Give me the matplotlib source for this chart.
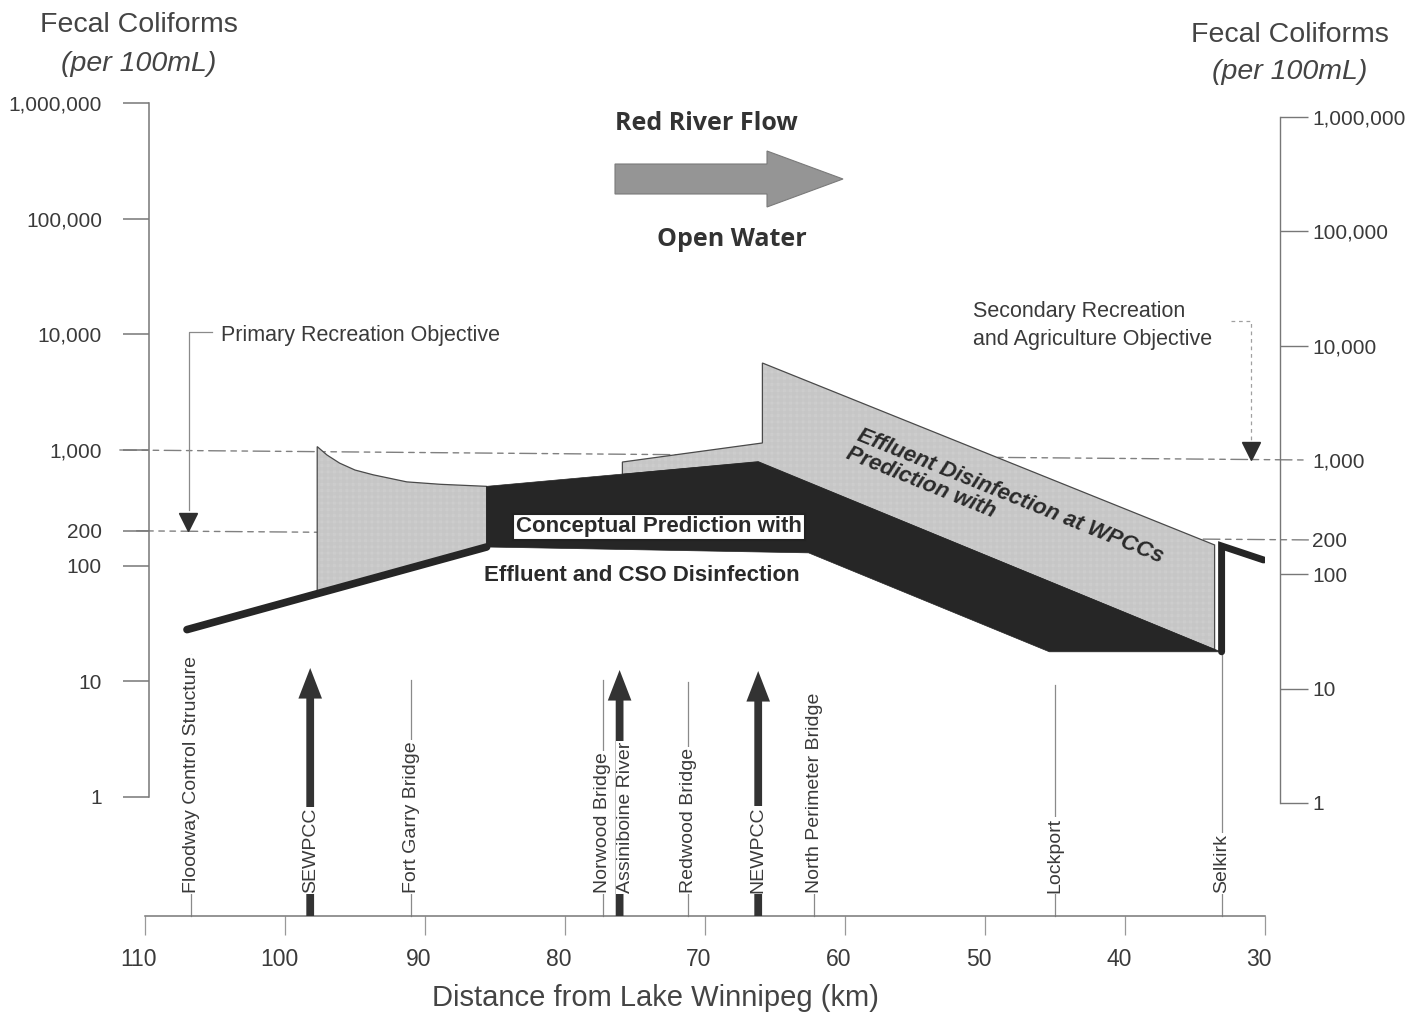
import numpy as np
import matplotlib
matplotlib.use("Agg")
import matplotlib.pyplot as plt
from matplotlib import patches as mpatches, transforms as mtrans
from matplotlib.ticker import NullLocator
from matplotlib import font_manager as fm

# ---------------- data ----------------
x_ticks = [110, 100, 90, 80, 70, 60, 50, 40, 30]
y_ticks = [1, 10, 100, 200, 1000, 10000, 100000, 1000000]
y_ticklabels = ["1", "10", "100", "200", "1,000", "10,000", "100,000", "1,000,000"]
primary_objective = 200
secondary_objective = 1000

stations = ["Floodway Control Structure", "SEWPCC", "Fort Garry Bridge",
            "Norwood Bridge", "Assiniboine River", "Redwood Bridge", "NEWPCC",
            "North Perimeter Bridge", "Lockport", "Selkirk"]
station_km = [106.7, 98.2, 91.0, 77.3, 76.1, 71.2, 66.2, 62.2, 45.0, 33.1]
inflows = ["SEWPCC", "Assiniboine River", "NEWPCC"]

# conceptual prediction with effluent and CSO disinfection
conc_line_km = [107.0, 85.6]
conc_line_val = [28, 145]
band_top_km = [85.6, 66.2, 33.4]
band_top_val = [485, 790, 18.5]
band_bot_km = [85.6, 62.6, 45.4, 33.1]
band_bot_val = [145, 129, 18, 18]
tail_km = [33.1, 33.1, 30.1]
tail_val = [18, 148, 112]

# prediction with effluent disinfection at WPCCs
sew_km = [97.7, 97.0, 96.1, 95.0, 93.7, 91.3, 88.9, 85.6]
sew_val = [1070, 905, 770, 671, 610, 530, 505, 485]
eff_km = [75.9, 75.9, 65.9, 65.9, 33.6, 33.6]
eff_val = [614, 787, 1150, 5650, 151, 18.7]

# ---------------- style ----------------
W, H = 1426, 1018
TXT = "#3a3a3a"
AXC = "#777777"
BLACK = "#262626"
GRAY = "#e0e0e0"
plt.rcParams["font.family"] = ["Liberation Sans", "DejaVu Sans"]
plt.rcParams["hatch.linewidth"] = 0.4

avail = {f.name for f in fm.fontManager.ttflist}
NARROW = "Liberation Sans Narrow" in avail

fig = plt.figure(figsize=(W / 100, H / 100), dpi=100)
fig.patch.set_facecolor("white")
PX = mtrans.Affine2D().scale(1 / W, -1 / H).translate(0, 1) + fig.transFigure

ax = fig.add_axes([145 / W, (H - 916) / H, 1120 / W, 916 / H])
ax.set_xlim(110, 30)
ax.set_yscale("log")
ax.set_ylim(10 ** ((797 - 916) / 115.67), 10 ** (797 / 115.67))
ax.patch.set_visible(False)
for s in ["top", "right"]:
    ax.spines[s].set_visible(False)
ax.spines["left"].set_bounds(1, 1e6)
ax.spines["left"].set_position(("outward", -3))
ax.spines["bottom"].set_bounds(110, 30)
for s in ["left", "bottom"]:
    ax.spines[s].set_color(AXC)
    ax.spines[s].set_linewidth(1.1)

ax.set_xticks(x_ticks)
ax.set_xticklabels([str(v) for v in x_ticks])
ax.set_yticks(y_ticks)
ax.set_yticklabels(y_ticklabels)
ax.yaxis.set_minor_locator(NullLocator())
ax.tick_params(axis="x", length=14, width=0.9, color="#999", pad=9,
               labelsize=16.5, labelcolor=TXT)
ax.tick_params(axis="y", length=19, width=1.1, color=AXC, pad=15,
               labelsize=15, labelcolor=TXT)
shift = mtrans.ScaledTranslation(-6 / 100, 0, fig.dpi_scale_trans)
for lab in ax.get_xticklabels():
    lab.set_transform(lab.get_transform() + shift)
for t, v in zip(ax.yaxis.get_major_ticks(), y_ticks):
    if v in (primary_objective, secondary_objective):
        t.tick1line.set_visible(False)

ax2 = ax.twinx()
ax2.set_yscale("log")
ax2.set_ylim(10 ** ((803 - 916) / 114.33), 10 ** (803 / 114.33))
for s in ["top", "left", "bottom"]:
    ax2.spines[s].set_visible(False)
ax2.spines["right"].set_position(("outward", 11))
ax2.spines["right"].set_bounds(1, 1e6)
ax2.spines["right"].set_color(AXC)
ax2.spines["right"].set_linewidth(1.0)
ax2.set_yticks(y_ticks)
ax2.set_yticklabels(y_ticklabels)
ax2.yaxis.set_minor_locator(NullLocator())
ax2.tick_params(axis="y", length=20, width=1.0, color=AXC, pad=3,
                labelsize=15, labelcolor=TXT)
for t, v in zip(ax2.yaxis.get_major_ticks(), y_ticks):
    if v in (primary_objective, secondary_objective):
        t.tick2line.set_visible(False)

# objective lines (dash-dot-dot), left axis -> right axis
for val, x0 in [(secondary_objective, 111.8), (primary_objective, 110.6)]:
    cp = mpatches.ConnectionPatch(xyA=(x0, val), coordsA=ax.transData,
                                  xyB=(26.9, val), coordsB=ax2.transData,
                                  color="#808080", lw=1.0,
                                  linestyle=(0, (12, 4, 4, 4, 4, 4)),
                                  zorder=1, annotation_clip=False)
    ax.add_artist(cp)

# ---------------- shapes ----------------
def gray_fill(xs, ys):
    ax.fill(xs, ys, facecolor=GRAY, edgecolor="#c6c6c6", hatch="+" * 14,
            lw=0, zorder=2)
    ax.fill(xs, ys, facecolor="none", edgecolor="#4a4a4a", lw=0.9, zorder=2.1)

# SEWPCC plume: curve down to the conceptual line
lk = np.log10(conc_line_val)
def conc_at(km):
    return 10 ** np.interp(-km, [-conc_line_km[0], -conc_line_km[1]], lk)
gx = sew_km + [sew_km[-1], sew_km[0]]
gy = sew_val + [conc_at(sew_km[-1]), conc_at(sew_km[0])]
gray_fill(gx, gy)

# downstream effluent prediction, closed along the band top
ex = eff_km + [band_top_km[1]]
ey = eff_val + [band_top_val[1]]
gray_fill(ex, ey)

# conceptual band
bx = band_top_km + band_bot_km[::-1]
by = band_top_val + band_bot_val[::-1]
ax.fill(bx, by, color=BLACK, lw=0.5, zorder=3)
ax.plot(conc_line_km, conc_line_val, color=BLACK, lw=5.5,
        solid_capstyle="round", zorder=3)
ax.plot(tail_km, tail_val, color=BLACK, lw=5.0, solid_capstyle="round",
        solid_joinstyle="miter", zorder=3)

# ---------------- stations ----------------
xt = ax.get_xaxis_transform()
line_top_px = {"Floodway Control Structure": 655, "SEWPCC": 668,
               "Fort Garry Bridge": 680, "Norwood Bridge": 680,
               "Assiniboine River": 670, "Redwood Bridge": 682, "NEWPCC": 671,
               "North Perimeter Bridge": 693, "Lockport": 685, "Selkirk": 655}
label_nudge_px = {"Assiniboine River": 6}
label_y = (916 - 893) / 916
for name, km in zip(stations, station_km):
    top = (916 - line_top_px[name]) / 916
    if name in inflows:
        ax.annotate("", xy=(km, top), xytext=(km, 0), xycoords=xt,
                    textcoords=xt, annotation_clip=False, zorder=4,
                    arrowprops=dict(arrowstyle="simple,head_length=1.1,head_width=0.85,tail_width=0.28",
                                    mutation_scale=20, fc="#333333", ec="none",
                                    shrinkA=0, shrinkB=0))
    else:
        ax.plot([km, km], [0, top], transform=xt, color="#8a8a8a", lw=0.9,
                zorder=1, clip_on=False)
    tr = mtrans.offset_copy(xt, fig=fig, x=label_nudge_px.get(name, 0) * 0.72,
                            units="points")
    ax.text(km, label_y, name, transform=tr, rotation=90, ha="center",
            va="bottom", fontsize=14, color=TXT, zorder=5,
            bbox=dict(boxstyle="square,pad=0.05", fc="white", ec="none"))

# ---------------- objectives annotation ----------------
ax.plot([212, 188.5, 188.5], [332, 332, 510], transform=PX, color="#8a8a8a",
        lw=0.9, clip_on=False, zorder=1)
tri = mtrans.offset_copy(ax.transData, fig=fig, y=6.5, units="points")
ax.plot([106.9], [primary_objective], marker="v", ms=13, color="#2e2e2e",
        transform=tri, clip_on=False, zorder=5)
fig.text(221, 335, "Primary Recreation Objective", transform=PX, fontsize=15.5,
         color=TXT, ha="left", va="center")

ax.plot([1231, 1251, 1251], [321, 321, 440], transform=PX, color="#a0a0a0",
        lw=0.9, ls=(0, (3, 3)), clip_on=False, zorder=1)
tri2 = mtrans.offset_copy(ax2.transData, fig=fig, y=6.5, units="points")
ax2.plot([31.0], [secondary_objective], marker="v", ms=13, color="#2e2e2e",
         transform=tri2, clip_on=False, zorder=5)
fig.text(973, 312, "Secondary Recreation", transform=PX, fontsize=15.5,
         color=TXT, ha="left", va="center")
fig.text(973, 340, "and Agriculture Objective", transform=PX, fontsize=15.5,
         color=TXT, ha="left", va="center")

# ---------------- labels in chart ----------------
if NARROW:
    cfont = dict(family=["Liberation Sans Narrow", "Liberation Sans"], fontsize=19.5)
else:
    cfont = dict(family=["Liberation Sans", "DejaVu Sans"], fontsize=16)
fig.text(659, 527, "Conceptual Prediction with", transform=PX, weight="bold",
         color="#2a2a2a", ha="center", va="center", zorder=6,
         bbox=dict(boxstyle="square,pad=0.12", fc="white", ec="#222", lw=1.5),
         **cfont)
fig.text(642, 576, "Effluent and CSO Disinfection", transform=PX,
         weight="bold", color="#2a2a2a", ha="center", va="center", **cfont)

fig.text(856, 440, "Effluent Disinfection at WPCCs", transform=PX,
         rotation=-22, rotation_mode="anchor", ha="left", va="baseline",
         fontsize=16, weight="bold", style="italic", color="#2a2a2a")
fig.text(845, 458, "Prediction with", transform=PX,
         rotation=-22, rotation_mode="anchor", ha="left", va="baseline",
         fontsize=16, weight="bold", style="italic", color="#2a2a2a")

# flow arrow and titles
fig.text(706, 123, "Red River Flow", transform=PX, fontsize=18,
         weight="bold", family=["Open Sans", "DejaVu Sans"], color="#333",
         ha="center", va="center")
fig.text(732, 240, "Open Water", transform=PX, fontsize=18, weight="bold",
         family=["Open Sans", "DejaVu Sans"], color="#333", ha="center",
         va="center")
arr = mpatches.FancyArrow(615, 179, 228, 0, width=30, head_width=56,
                          head_length=76, length_includes_head=True,
                          transform=PX, facecolor="#959595",
                          edgecolor="#7a7a7a", lw=0.8)
fig.patches.append(arr)

for cx, y1, y2 in [(139, 25, 64), (1290, 35, 72)]:
    fig.text(cx, y1, "Fecal Coliforms", transform=PX, fontsize=20.5,
             color="#444", ha="center", va="center")
    fig.text(cx, y2, "(per 100mL)", transform=PX, fontsize=20.5,
             style="italic", color="#444", ha="center", va="center")

fig.text(655, 998, "Distance from Lake Winnipeg (km)", transform=PX,
         fontsize=21, color="#444", ha="center", va="center")

fig.savefig("out.png", dpi=100, facecolor="white")
